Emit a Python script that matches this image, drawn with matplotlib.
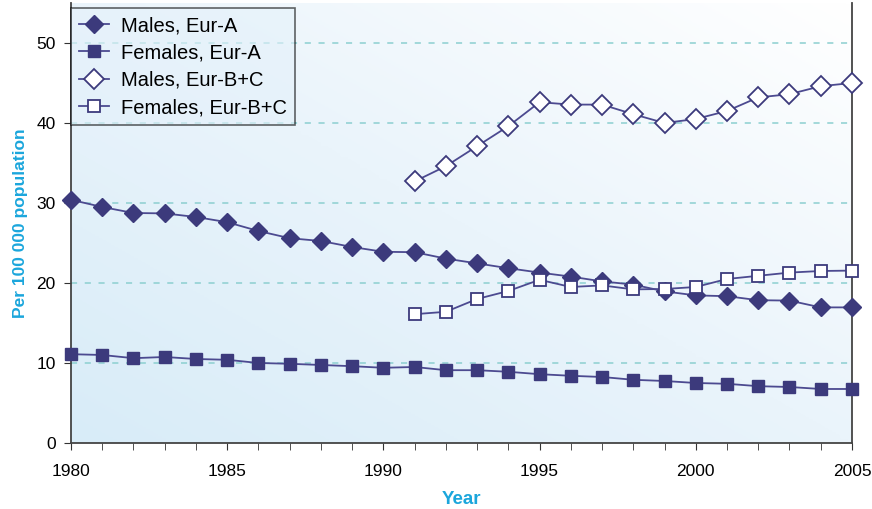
import numpy as np
import matplotlib.pyplot as plt
from matplotlib.colors import LinearSegmentedColormap
from matplotlib.ticker import MultipleLocator

plt.rcParams['font.family'] = ['Liberation Sans', 'DejaVu Sans']

years_a = list(range(1980, 2006))
years_bc = list(range(1991, 2006))

males_eur_a = [30.4, 29.5, 28.75, 28.7, 28.25, 27.6, 26.5, 25.6, 25.25, 24.5,
               23.9, 23.85, 23.05, 22.45, 21.85, 21.3, 20.8, 20.2, 19.8, 18.95,
               18.45, 18.35, 17.85, 17.8, 16.95, 16.95]
females_eur_a = [11.1, 11.0, 10.6, 10.75, 10.5, 10.4, 10.0, 9.9, 9.75, 9.6,
                 9.4, 9.5, 9.1, 9.1, 8.9, 8.6, 8.4, 8.25, 7.9, 7.75,
                 7.5, 7.4, 7.1, 7.0, 6.75, 6.75]
males_eur_bc = [32.7, 34.6, 37.1, 39.6, 42.6, 42.3, 42.3, 41.1, 40.0, 40.5,
                41.5, 43.2, 43.6, 44.6, 45.0]
females_eur_bc = [16.1, 16.4, 18.0, 19.0, 20.4, 19.5, 19.7, 19.2, 19.25, 19.5,
                  20.5, 20.9, 21.3, 21.5, 21.55]

purple = '#3c3a7c'
line_col = '#4c4a90'
cyan = '#1ba6dc'

fig = plt.figure(figsize=(8.72, 5.09), dpi=100)
ax = fig.add_axes([0.0814, 0.1297, 0.8956, 0.8644])

# gradient background: light blue bottom-left to white top-right
gx, gy = np.meshgrid(np.linspace(0, 1, 200), np.linspace(0, 1, 200))
g = ((1 - gx) + (1 - gy)) / 2
cmap = LinearSegmentedColormap.from_list('bg', ['#ffffff', '#eaf4fb', '#d8ecf8'])
ax.imshow(g, extent=[1980, 2005, 0, 55], origin='lower', aspect='auto',
          cmap=cmap, zorder=0)

for y in [10, 20, 30, 40, 50]:
    ax.axhline(y, color='#8ccfd0', lw=1.1, ls=(0, (4, 5)), zorder=1)

ax.plot(years_a, males_eur_a, marker='D', color=line_col, mfc=purple, mec=purple,
        ms=9, lw=1.3, label='Males, Eur-A', zorder=3, clip_on=False)
ax.plot(years_a, females_eur_a, marker='s', color=line_col, mfc=purple, mec=purple,
        ms=8, lw=1.3, label='Females, Eur-A', zorder=3, clip_on=False)
ax.plot(years_bc, males_eur_bc, marker='D', color=line_col, mfc='white', mec=purple,
        ms=10, mew=1.3, lw=1.3, label='Males, Eur-B+C', zorder=3, clip_on=False)
ax.plot(years_bc, females_eur_bc, marker='s', color=line_col, mfc='white', mec=purple,
        ms=9, mew=1.3, lw=1.3, label='Females, Eur-B+C', zorder=3, clip_on=False)

ax.set_xlim(1980, 2005)
ax.set_ylim(0, 55)
ax.xaxis.set_major_locator(MultipleLocator(5))
ax.xaxis.set_minor_locator(MultipleLocator(1))
ax.set_yticks([0, 10, 20, 30, 40, 50])
ax.tick_params(axis='both', which='both', direction='out', colors='#333333',
               labelcolor='black', labelsize=12.5)
ax.tick_params(axis='x', which='both', length=5, pad=10)
ax.tick_params(axis='y', length=5, pad=6)

for s in ['left', 'bottom', 'right']:
    ax.spines[s].set_color('#444444')
    ax.spines[s].set_linewidth(1.3)
ax.spines['top'].set_visible(False)

ax.set_xlabel('Year', color=cyan, fontsize=13.5, fontweight='bold', labelpad=9)
ax.set_ylabel('Per 100 000 population', color=cyan, fontsize=12.5,
              fontweight='bold', labelpad=6)

leg = ax.legend(loc='upper left', bbox_to_anchor=(0, (443 - 8) / 440),
                borderaxespad=0, fontsize=14.5, frameon=True, fancybox=False,
                handlelength=1.5, labelspacing=0.42, borderpad=0.4,
                handletextpad=0.6)
leg.get_frame().set_edgecolor('black')
leg.get_frame().set_linewidth(1.2)
leg.get_frame().set_facecolor('#e4f1fa')
leg.get_frame().set_alpha(0.6)
leg.set_zorder(5)

fig.savefig('out.png', dpi=100)
